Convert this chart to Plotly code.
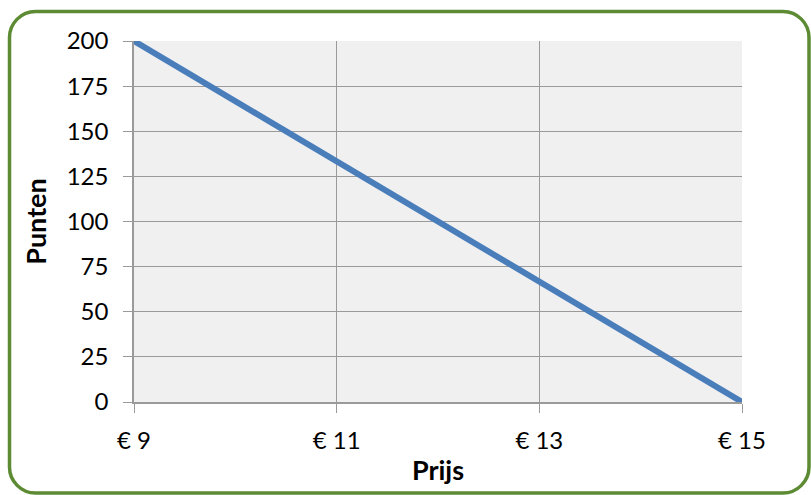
import plotly.graph_objects as go

prices = [9, 10, 11, 12, 13, 14, 15]
points = [200, 166.67, 133.33, 100, 66.67, 33.33, 0]
x_ticks = [9, 11, 13, 15]
x_tick_labels = ["€ 9", "€ 11", "€ 13", "€ 15"]
y_ticks = [0, 25, 50, 75, 100, 125, 150, 175, 200]

W, H = 811, 495
L, R, T, B = 134, 69, 41, 93
PW, PH = W - L - R, H - T - B

def px(x):
    return (x - L) / PW

def py(y):
    return (H - B - y) / PH

# rounded border path (pixel coords converted to paper coords)
x0, y0, x1, y1, r = 9.5, 11.5, 809.0, 493.0, 26
k = 0.45
def P(x, y):
    return f"{px(x):.5f},{py(y):.5f}"
path = (
    f"M {P(x0 + r, y0)} L {P(x1 - r, y0)} "
    f"C {P(x1 - r*k, y0)} {P(x1, y0 + r*k)} {P(x1, y0 + r)} "
    f"L {P(x1, y1 - r)} "
    f"C {P(x1, y1 - r*k)} {P(x1 - r*k, y1)} {P(x1 - r, y1)} "
    f"L {P(x0 + r, y1)} "
    f"C {P(x0 + r*k, y1)} {P(x0, y1 - r*k)} {P(x0, y1 - r)} "
    f"L {P(x0, y0 + r)} "
    f"C {P(x0, y0 + r*k)} {P(x0 + r*k, y0)} {P(x0 + r, y0)} Z"
)

fig = go.Figure()
fig.add_trace(go.Scatter(
    x=prices, y=points, mode="lines",
    line=dict(color="#4A7EBB", width=6),
    showlegend=False, hoverinfo="skip",
))

grid = "#9A9A9A"
fig.update_layout(
    width=W, height=H,
    margin=dict(l=L, r=R, t=T, b=B, pad=0),
    paper_bgcolor="white",
    plot_bgcolor="#F0F0F0",
    font=dict(family="Lato, Open Sans, sans-serif", color="black"),
    xaxis=dict(
        range=[9, 15], tickvals=x_ticks, ticktext=x_tick_labels,
        showgrid=True, gridcolor=grid, gridwidth=1,
        showline=True, linecolor=grid, linewidth=1.5,
        ticks="outside", ticklen=9, tickcolor=grid, tickwidth=1,
        tickfont=dict(size=24), zeroline=False, ticklabelstandoff=7,
        title=dict(text="<b>Prijs</b>", font=dict(size=27), standoff=9),
    ),
    yaxis=dict(
        range=[0, 200], tickvals=y_ticks,
        showgrid=True, gridcolor=grid, gridwidth=1,
        showline=True, linecolor=grid, linewidth=1.5,
        ticks="outside", ticklen=9, tickcolor=grid, tickwidth=1,
        tickfont=dict(size=24), zeroline=False, ticklabelstandoff=10,
        title=dict(text="<b>Punten</b>", font=dict(size=27), standoff=12),
    ),
    shapes=[dict(
        type="path", path=path, xref="paper", yref="paper",
        line=dict(color="#5D8B33", width=3.5), fillcolor="rgba(0,0,0,0)",
        layer="above",
    )],
)

fig.write_html("out.html")
